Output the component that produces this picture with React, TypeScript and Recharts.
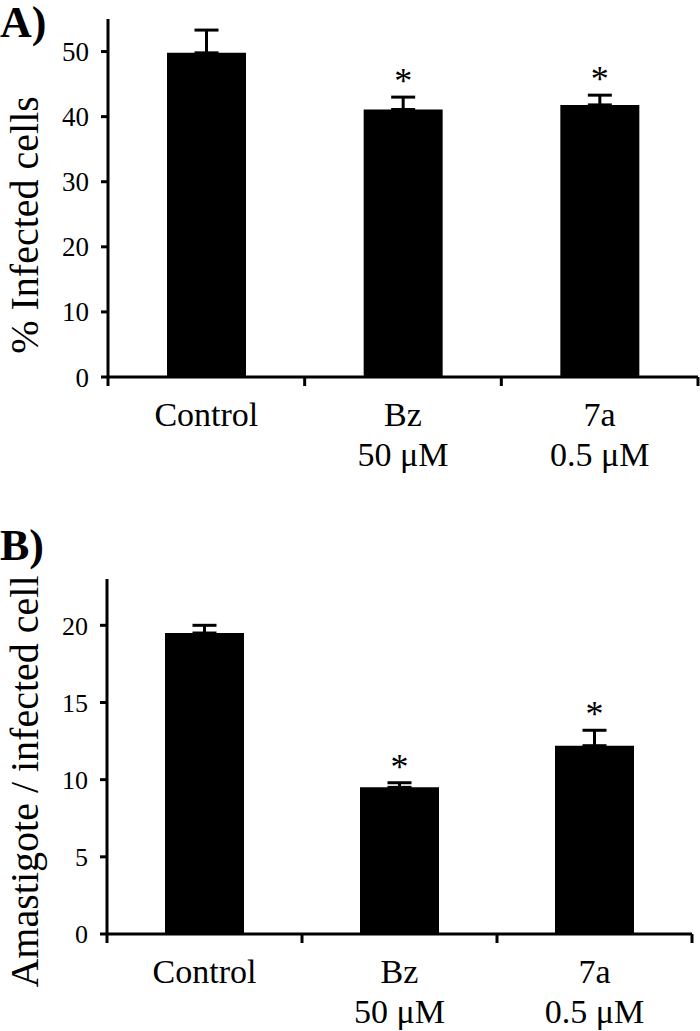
import React from 'react';
import { BarChart, Bar, XAxis, YAxis, ErrorBar, LabelList } from 'recharts';

// treatments, shared by both panels
const categories = ['Control', 'Bz', '7a'];
const doses = ['', '50 μM', '0.5 μM'];
const significance = ['', '*', '*'];

// panel A: % infected cells
const infectedPct = [49.8, 41.1, 41.8];
const infectedErr = [3.5, 1.9, 1.5];
const infectedTicks = [0, 10, 20, 30, 40, 50];

// panel B: amastigotes per infected cell
const amastigotes = [19.5, 9.5, 12.2];
const amastigoteErr = [0.5, 0.3, 1.0];
const amastigoteTicks = [0, 5, 10, 15, 20];

// x axis: category edges (tick marks) and centres (labels)
const xTicks = [0, 0.5, 1, 1.5, 2, 2.5, 3];

const FONT = '"Liberation Serif", "Times New Roman", serif';

const buildRows = (values: number[], errs: number[]) =>
  categories.map((name, i) => ({
    name,
    pos: i + 0.5,
    value: values[i],
    err: [0, errs[i]],
  }));

const CategoryTick = (props: any) => {
  const { x, y, payload } = props;
  const v = payload.value as number;
  if (Number.isInteger(v)) {
    return <line x1={x} x2={x} y1={y} y2={y + 9} stroke="#000" strokeWidth={3} />;
  }
  const i = Math.floor(v);
  return (
    <g>
      <text x={x} y={y + 49} textAnchor="middle" style={{ fontFamily: FONT }} fontSize={34} fill="#000">
        {categories[i]}
      </text>
      {doses[i] && (
        <text x={x} y={y + 89} textAnchor="middle" style={{ fontFamily: FONT }} fontSize={34} fill="#000">
          {doses[i]}
        </text>
      )}
    </g>
  );
};

const makeStar = (errs: number[], values: number[]) => (props: any) => {
  const { x, y, width, height, index } = props;
  if (!significance[index]) return null;
  const errPx = (height * errs[index]) / values[index];
  return (
    <text
      x={x + width / 2}
      y={y - errPx - 4}
      textAnchor="middle"
      style={{ fontFamily: FONT }}
      fontSize={36}
      fill="#000"
    >
      {significance[index]}
    </text>
  );
};

const makeYLabel = (text: string, shift: number) => (props: any) => {
  const { viewBox } = props;
  const cx = viewBox.x + 38;
  const cy = viewBox.y + viewBox.height / 2 + shift;
  return (
    <text
      x={cx}
      y={cy}
      transform={`rotate(-90, ${cx}, ${cy})`}
      textAnchor="middle"
      style={{ fontFamily: FONT }}
      fontSize={40}
      fill="#000"
    >
      {text}
    </text>
  );
};

type PanelProps = {
  values: number[];
  errs: number[];
  ticks: number[];
  max: number;
  yLabel: string;
  labelShift: number;
  height: number;
  marginTop: number;
  marginRight: number;
  axisHeight: number;
  yWidth: number;
  tickFont: number;
};

const Panel = (p: PanelProps) => {
  const data = buildRows(p.values, p.errs);
  return (
    <BarChart
      width={700}
      height={p.height}
      data={data}
      margin={{ top: p.marginTop, right: p.marginRight, bottom: 0, left: 0 }}
    >
      <XAxis
        dataKey="pos"
        type="number"
        domain={[0, 3]}
        ticks={xTicks}
        interval={0}
        tickLine={false}
        tickSize={0}
        tickMargin={0}
        height={p.axisHeight}
        tick={<CategoryTick />}
        axisLine={{ stroke: '#000', strokeWidth: 3 }}
        allowDataOverflow
      />
      <YAxis
        domain={[0, p.max]}
        ticks={p.ticks}
        width={p.yWidth}
        tickSize={7}
        tickMargin={12}
        axisLine={{ stroke: '#000', strokeWidth: 3 }}
        tickLine={{ stroke: '#000', strokeWidth: 3 }}
        tick={{ fontFamily: FONT, fontSize: p.tickFont, fill: '#000' }}
        allowDataOverflow
        label={{ content: makeYLabel(p.yLabel, p.labelShift) }}
      />
      <Bar dataKey="value" fill="#000" barSize={79} isAnimationActive={false}>
        <ErrorBar dataKey="err" direction="y" width={12} strokeWidth={3} stroke="#000" />
        <LabelList dataKey="value" content={makeStar(p.errs, p.values)} />
      </Bar>
    </BarChart>
  );
};

const panelTag: React.CSSProperties = {
  position: 'absolute',
  left: 0,
  fontFamily: FONT,
  fontWeight: 'bold',
  fontSize: 44,
  lineHeight: 1,
};

export default function App() {
  return (
    <div style={{ position: 'absolute', left: 0, top: 0, width: 700, height: 1031, background: '#fff' }}>
      <div style={{ position: 'absolute', left: 0, top: 0 }}>
        <Panel
          values={infectedPct}
          errs={infectedErr}
          ticks={infectedTicks}
          max={55}
          yLabel="% Infected cells"
          labelShift={27}
          height={510}
          marginTop={19}
          marginRight={2}
          axisHeight={133}
          yWidth={108}
          tickFont={27}
        />
      </div>
      <div style={{ position: 'absolute', left: 0, top: 510 }}>
        <Panel
          values={amastigotes}
          errs={amastigoteErr}
          ticks={amastigoteTicks}
          max={23}
          yLabel="Amastigote / infected cell"
          labelShift={25}
          height={521}
          marginTop={69}
          marginRight={8}
          axisHeight={97}
          yWidth={107}
          tickFont={26}
        />
      </div>
      <div style={{ ...panelTag, top: 1 }}>A)</div>
      <div style={{ ...panelTag, top: 524 }}>B)</div>
    </div>
  );
}
